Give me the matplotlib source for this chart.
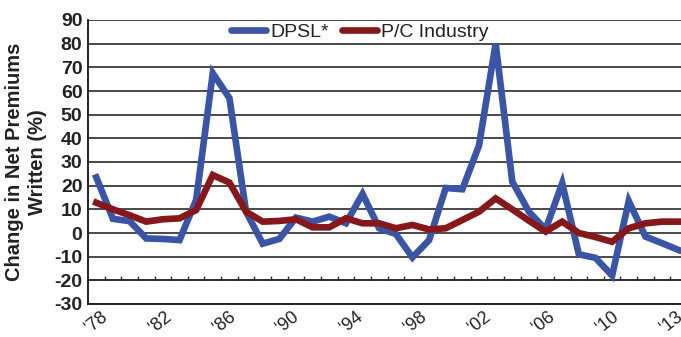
import numpy as np
import matplotlib
matplotlib.use("Agg")
import matplotlib.pyplot as plt
from matplotlib import font_manager

years = list(range(1978, 2014))
dpsl = [23.5, 6, 5, -2.3, -2.5, -3, 14, 67.5, 57, 9, -4.5, -2.5, 6.5, 4.8,
        6.9, 4.1, 16.5, 2, -0.4, -10.3, -3, 19, 18.5, 37, 80, 21.7, 9, 1.5,
        21, -9, -10.5, -18, 13.5, -1.5, -4.3, -7.2]
pc_industry = [12.8, 10, 7.5, 4.8, 5.8, 6.2, 9.7, 24.5, 21.3, 9, 4.8, 5.1,
               5.8, 2.4, 2.4, 6.2, 4.1, 4.1, 2, 3.4, 1.5, 2, 5.5, 9, 14.6,
               10, 5.2, 0.6, 4.8, 0, -1.7, -3.7, 2, 4.1, 4.8, 4.8]
year_labels = ["'78", "'82", "'86", "'90", "'94", "'98", "'02", "'06", "'10", "'13"]
y_ticks = list(range(-30, 100, 10))

names = {f.name for f in font_manager.fontManager.ttflist}
font = "Liberation Sans Narrow" if "Liberation Sans Narrow" in names else "Liberation Sans"
plt.rcParams["font.family"] = [font, "DejaVu Sans"]

blue = "#3a55a6"
red = "#86181b"

fig = plt.figure(figsize=(6.81, 3.37), dpi=100)
ax = fig.add_axes([88 / 681, 1 - 304 / 337, 599 / 681, 284 / 337])

x = np.arange(len(years))
ax.plot(x, dpsl, color=blue, lw=4.8, solid_joinstyle="miter", label="DPSL*", zorder=3)
ax.plot(x, pc_industry, color=red, lw=4.8, solid_joinstyle="miter", label="P/C Industry", zorder=4)

ax.set_xlim(-0.5, len(years) - 0.5)
ax.set_ylim(-30, 90)
ax.set_yticks(y_ticks)
ax.set_yticklabels([str(v) for v in y_ticks], fontsize=14, fontweight="bold", color="#222222")
ax.grid(axis="y", color="#2a2a2a", lw=1.2)
ax.set_axisbelow(True)
ax.tick_params(axis="y", length=0, pad=4)

# year labels sit slightly tighter than one every four categories
ax.set_xticks(np.arange(len(year_labels)) * 3.84)
ax.set_xticklabels(year_labels, rotation=38, fontsize=13, color="#222222",
                   ha="center", va="top")
ax.tick_params(axis="x", length=0, pad=3)

# category tick marks along the -20 line
sec = ax.secondary_xaxis(10 / 120)
sec.set_xticks(np.arange(0.5, len(years) - 0.5, 1))
sec.set_xticklabels([])
sec.tick_params(axis="x", direction="in", length=3, width=1, color="#2a2a2a")
sec.spines["bottom"].set_color("#2a2a2a")
sec.spines["bottom"].set_linewidth(1.2)

for side in ["top", "right"]:
    ax.spines[side].set_visible(False)
ax.spines["left"].set_color("#222222")
ax.spines["left"].set_linewidth(1.4)
ax.spines["bottom"].set_color("#222222")
ax.spines["bottom"].set_linewidth(1.4)

ax.set_ylabel("Change in Net Premiums\nWritten (%)", fontsize=14.5, fontweight="bold",
              color="#222222", linespacing=1.3, labelpad=5)

leg = ax.legend(loc="center", bbox_to_anchor=(360 / 681, 1 - 32 / 337),
                bbox_transform=fig.transFigure, ncol=2, frameon=False,
                fontsize=14, handlelength=1.8, handletextpad=0.2, columnspacing=0.7)
for line in leg.get_lines():
    line.set_solid_capstyle("round")
for t in leg.get_texts():
    t.set_color("#222222")

fig.savefig("out.png", dpi=100)
